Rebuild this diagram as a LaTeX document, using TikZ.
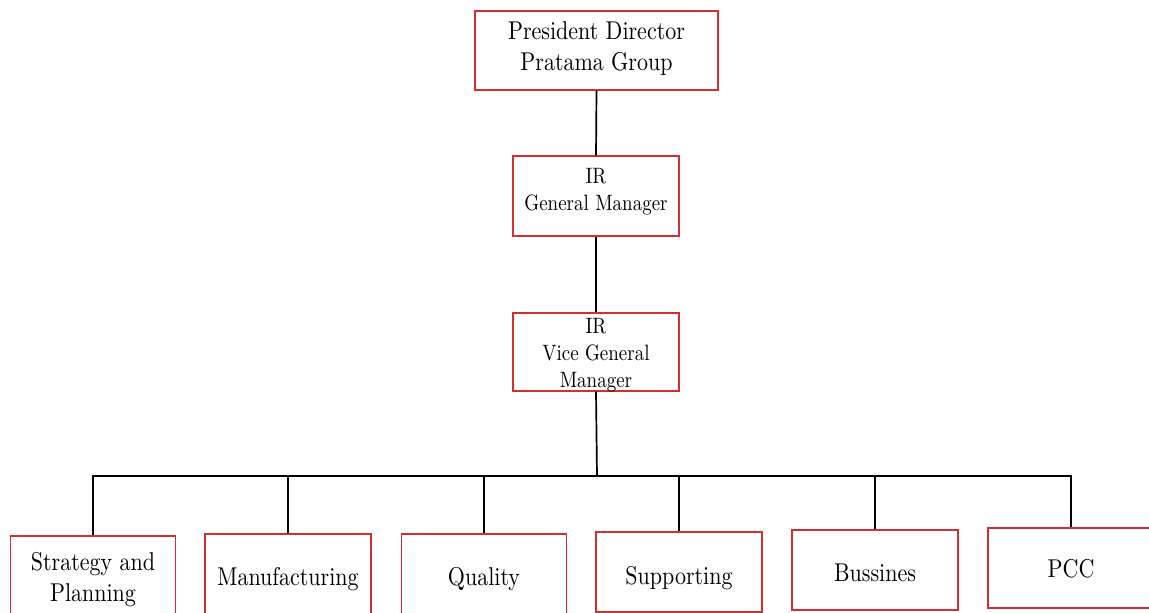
\documentclass[tikz,border=0pt]{standalone}
\usepackage{fontspec}
\usepackage{graphicx}
\newfontfamily\lmten[Extension=.otf]{lmroman10-regular}
\definecolor{boxred}{RGB}{208,48,48}
% [#1] = trim of the extent, #2 = downward shift, #3 = lines
\newcommand\orgtext[3][0pt]{\raisebox{-#2}[\dimexpr\height-#1\relax][\dimexpr\depth-#1\relax]{\scalebox{1}[1.17]{\begin{tabular}{@{}c@{}}#3\end{tabular}}}}
\tikzset{
  orgbox/.style={draw=boxred, line width=1.1pt, rectangle, inner sep=0pt, fill=white},
  topfont/.style={font=\lmten\fontsize{22}{26.5}\selectfont},
  gmfont/.style={font=\lmten\fontsize{19}{23}\selectfont},
  vgmfont/.style={font=\lmten\fontsize{19}{23.5}\selectfont},
  botfont/.style={font=\lmten\fontsize{22}{26.5}\selectfont},
  link/.style={draw=black, line width=1.7pt}
}
\begin{document}
\begin{tikzpicture}[x=1pt, y=-1pt]
\useasboundingbox (0,0) rectangle (1149,613);
\clip (0,0) rectangle (1149,613);
\fill[white] (0,0) rectangle (1149,613);
% upper hierarchy
\node[orgbox, topfont, minimum width=243pt, minimum height=79pt] (pd) at (596.5,50.5) {\orgtext{-2pt}{President Director\\Pratama Group}};
\node[orgbox, gmfont, minimum width=166pt, minimum height=80pt] (gm) at (596,196) {\orgtext{-4pt}{IR\\General Manager}};
\node[orgbox, vgmfont, minimum width=166pt, minimum height=78pt] (vgm) at (596,352) {\orgtext[5pt]{3pt}{IR\\Vice General\\Manager}};
% bus
\coordinate (bus) at (597,476);
% bottom departments
\node[orgbox, botfont, minimum width=165pt, minimum height=80pt] (s1) at (93,576) {\orgtext{4pt}{Strategy and\\Planning}};
\node[orgbox, botfont, minimum width=166pt, minimum height=80pt] (s2) at (288,574) {\orgtext{5pt}{Manufacturing}};
\node[orgbox, botfont, minimum width=165pt, minimum height=80pt] (s3) at (484,574) {\orgtext{5pt}{Quality}};
\node[orgbox, botfont, minimum width=166pt, minimum height=80pt] (s4) at (679,572) {\orgtext{6pt}{Supporting}};
\node[orgbox, botfont, minimum width=166pt, minimum height=80pt] (s5) at (875,570) {\orgtext{5pt}{Bussines}};
\node[orgbox, botfont, minimum width=166pt, minimum height=80pt] (s6) at (1071,568) {\orgtext{3pt}{PCC}};
% connectors
\draw[link] (pd.south) -- (gm.north);
\draw[link] (gm.south) -- (vgm.north);
\draw[link] (vgm.south) -- (bus);
\draw[link] (s1.north) -- (s1.north |- bus) -- (s6.north |- bus) -- (s6.north);
\draw[link] (s2.north) -- (s2.north |- bus);
\draw[link] (s3.north) -- (s3.north |- bus);
\draw[link] (s4.north) -- (s4.north |- bus);
\draw[link] (s5.north) -- (s5.north |- bus);
\end{tikzpicture}
\end{document}
